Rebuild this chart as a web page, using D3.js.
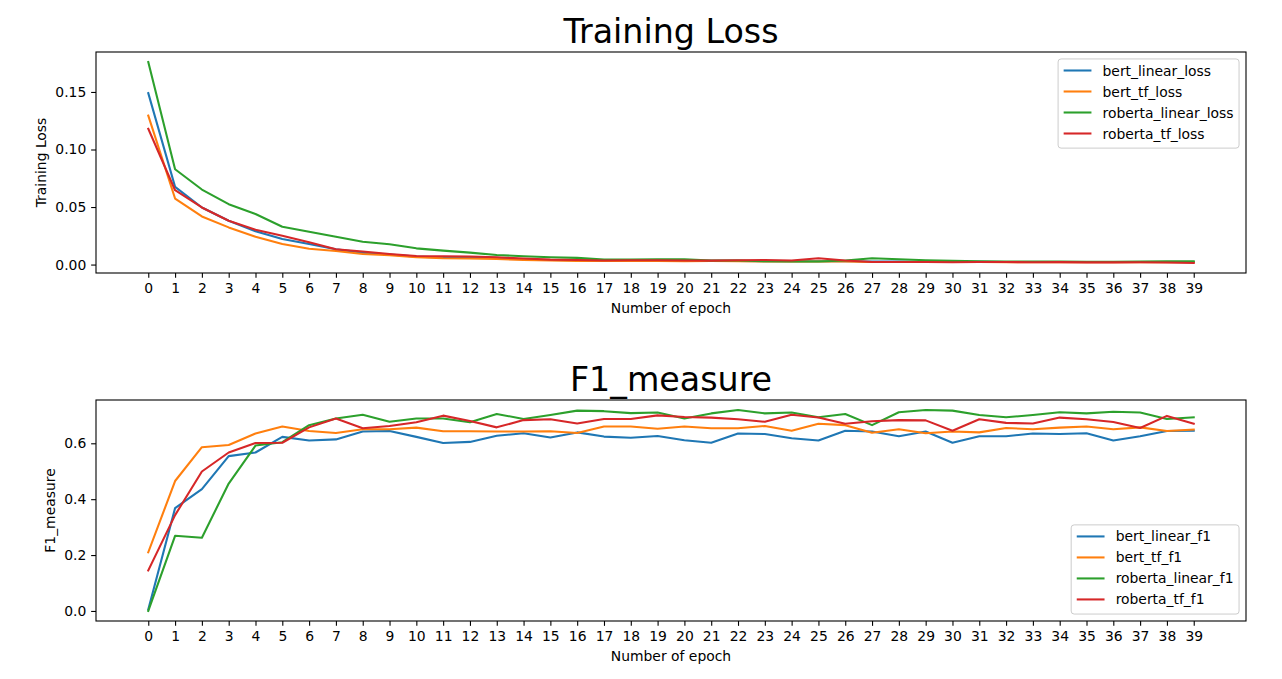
<!DOCTYPE html>
<html>
<head>
<meta charset="utf-8">
<script src="https://cdn.jsdelivr.net/npm/d3@7"></script>
<style>
  html, body { margin: 0; padding: 0; background: #fff; }
  svg { display: block; font-family: "DejaVu Sans", sans-serif; }
</style>
</head>
<body>
<svg id="chart" width="1282" height="679"></svg>
<script>
// ---------- data ----------
const epochs = d3.range(0, 40);

const bertLinearLoss = [0.149, 0.0675, 0.0496, 0.0381, 0.0289, 0.0222, 0.0179, 0.0133, 0.0104, 0.0087,
  0.0069, 0.0062, 0.0060, 0.0058, 0.0046, 0.0040, 0.0038, 0.0035, 0.0035, 0.0035,
  0.0032, 0.0033, 0.0032, 0.0029, 0.0029, 0.0029, 0.0029, 0.0026, 0.0026, 0.0023,
  0.0023, 0.0024, 0.0023, 0.0022, 0.0023, 0.0022, 0.0022, 0.0023, 0.0022, 0.0022];
const bertTfLoss = [0.1295, 0.0574, 0.0418, 0.0323, 0.0242, 0.0179, 0.0138, 0.0118, 0.0092, 0.0081,
  0.0063, 0.0055, 0.0053, 0.0049, 0.0040, 0.0035, 0.0032, 0.0032, 0.0032, 0.0032,
  0.0029, 0.0031, 0.0029, 0.0026, 0.0026, 0.0026, 0.0026, 0.0023, 0.0023, 0.0023,
  0.0022, 0.0022, 0.0021, 0.0021, 0.0021, 0.0020, 0.0020, 0.0020, 0.0020, 0.0020];
const robertaLinearLoss = [0.176, 0.0828, 0.0652, 0.0525, 0.0439, 0.0329, 0.0286, 0.0242, 0.0199, 0.0176,
  0.0141, 0.0121, 0.0104, 0.0083, 0.0072, 0.0063, 0.0058, 0.0043, 0.0043, 0.0046,
  0.0046, 0.0035, 0.0035, 0.0029, 0.0026, 0.0026, 0.0035, 0.0055, 0.0046, 0.0037,
  0.0032, 0.0028, 0.0026, 0.0026, 0.0026, 0.0025, 0.0025, 0.0026, 0.0028, 0.0029];
const robertaTfLoss = [0.118, 0.0646, 0.0496, 0.0381, 0.0303, 0.0251, 0.0193, 0.0133, 0.0113, 0.0092,
  0.0075, 0.0072, 0.0070, 0.0063, 0.0052, 0.0043, 0.0040, 0.0035, 0.0037, 0.0037,
  0.0035, 0.0034, 0.0037, 0.0040, 0.0035, 0.0055, 0.0035, 0.0023, 0.0023, 0.0022,
  0.0020, 0.0023, 0.0022, 0.0020, 0.0021, 0.0019, 0.0019, 0.0020, 0.0018, 0.0014];

const bertLinearF1 = [0.005, 0.368, 0.436, 0.554, 0.567, 0.623, 0.610, 0.614, 0.642, 0.644,
  0.623, 0.601, 0.605, 0.627, 0.636, 0.621, 0.639, 0.624, 0.620, 0.626,
  0.611, 0.602, 0.635, 0.633, 0.618, 0.610, 0.645, 0.642, 0.625, 0.642,
  0.602, 0.625, 0.625, 0.635, 0.633, 0.636, 0.610, 0.625, 0.644, 0.645];
const bertTfF1 = [0.210, 0.465, 0.586, 0.594, 0.635, 0.660, 0.644, 0.637, 0.650, 0.650,
  0.656, 0.643, 0.643, 0.642, 0.642, 0.643, 0.637, 0.660, 0.660, 0.652,
  0.660, 0.654, 0.654, 0.662, 0.645, 0.670, 0.665, 0.638, 0.650, 0.636,
  0.642, 0.639, 0.655, 0.650, 0.656, 0.660, 0.650, 0.657, 0.644, 0.649];
const robertaLinearF1 = [0.0, 0.269, 0.262, 0.456, 0.592, 0.604, 0.665, 0.689, 0.702, 0.677,
  0.689, 0.689, 0.675, 0.705, 0.687, 0.701, 0.717, 0.715, 0.708, 0.710,
  0.689, 0.707, 0.719, 0.707, 0.710, 0.693, 0.705, 0.665, 0.711, 0.719,
  0.717, 0.701, 0.693, 0.701, 0.711, 0.707, 0.713, 0.710, 0.687, 0.693];
const robertaTfF1 = [0.145, 0.343, 0.499, 0.567, 0.601, 0.602, 0.657, 0.689, 0.654, 0.662,
  0.675, 0.699, 0.680, 0.657, 0.683, 0.686, 0.671, 0.687, 0.687, 0.700,
  0.694, 0.692, 0.686, 0.677, 0.702, 0.692, 0.670, 0.679, 0.683, 0.682,
  0.645, 0.686, 0.673, 0.671, 0.692, 0.686, 0.676, 0.655, 0.698, 0.670];

const lossNames = ["bert_linear_loss", "bert_tf_loss", "roberta_linear_loss", "roberta_tf_loss"];
const f1Names = ["bert_linear_f1", "bert_tf_f1", "roberta_linear_f1", "roberta_tf_f1"];
const lossTicks = [0.00, 0.05, 0.10, 0.15];
const f1Ticks = [0.0, 0.2, 0.4, 0.6];
const colors = ["#1f77b4", "#ff7f0e", "#2ca02c", "#d62728"];

// ---------- drawing ----------
const svg = d3.select("#chart");
const FS = 13.9;

function panel(cfg) {
  const { top, bottom, left, right, series, names, ticks, fmt, title, ylabel, ylabelX, legendPos } = cfg;
  const g = svg.append("g");
  const x = d3.scaleLinear().domain([-1.95, 40.95]).range([left, right]);
  const all = series.flat();
  const mn = d3.min(all), mx = d3.max(all), m = (mx - mn) * 0.05;
  const y = d3.scaleLinear().domain([mn - m, mx + m]).range([bottom, top]);

  // lines
  const line = d3.line().x((d, i) => x(epochs[i])).y(d => y(d));
  series.forEach((s, i) => {
    g.append("path").datum(s).attr("d", line)
      .attr("fill", "none").attr("stroke", colors[i]).attr("stroke-width", 2.08)
      .attr("stroke-linejoin", "round").attr("stroke-linecap", "square");
  });

  // axes
  const xa = g.append("g").attr("transform", `translate(0,${bottom})`)
    .call(d3.axisBottom(x).tickValues(epochs).tickFormat(d3.format("d")).tickSize(4.86).tickPadding(4.86));
  const ya = g.append("g").attr("transform", `translate(${left},0)`)
    .call(d3.axisLeft(y).tickValues(ticks).tickFormat(d3.format(fmt)).tickSize(4.86).tickPadding(4.86));
  [xa, ya].forEach(a => {
    a.select(".domain").remove();
    a.selectAll("line").attr("stroke", "#000").attr("stroke-width", 1.1);
    a.selectAll("text").attr("font-size", FS).attr("fill", "#000").attr("font-family", "DejaVu Sans");
  });

  // frame
  g.append("rect").attr("x", left).attr("y", top).attr("width", right - left).attr("height", bottom - top)
    .attr("fill", "none").attr("stroke", "#000").attr("stroke-width", 1.1);

  // title
  g.append("text").attr("x", (left + right) / 2).attr("y", top - 8.6).attr("text-anchor", "middle")
    .attr("font-size", 33.3).text(title);
  // x label
  g.append("text").attr("x", (left + right) / 2).attr("y", bottom + 40).attr("text-anchor", "middle")
    .attr("font-size", FS).text("Number of epoch");
  // y label
  g.append("text").attr("transform", `translate(${ylabelX},${(top + bottom) / 2}) rotate(-90)`)
    .attr("text-anchor", "middle").attr("font-size", FS).text(ylabel);

  // legend
  const lg = g.append("g");
  const box = lg.append("rect").attr("rx", 3).attr("ry", 3)
    .attr("fill", "#fff").attr("fill-opacity", 0.8).attr("stroke", "#cccccc").attr("stroke-width", 1);
  const pad = 5.56, rowH = 21, hl = 27.8, hp = 11.1;
  const texts = names.map((n, i) => lg.append("text").attr("font-size", FS).text(n));
  const maxW = d3.max(texts, t => t.node().getComputedTextLength());
  const bw = pad * 2 + hl + hp + maxW;
  const bh = pad * 2 + rowH * 4 - 6.94 + 1;
  const bx = right - 6.94 - bw;
  const by = legendPos === "upper" ? top + 6.94 : bottom - 6.94 - bh;
  box.attr("x", bx).attr("y", by).attr("width", bw).attr("height", bh);
  names.forEach((n, i) => {
    const cy = by + pad + 6 + i * rowH;
    lg.append("line").attr("x1", bx + pad).attr("x2", bx + pad + hl).attr("y1", cy).attr("y2", cy)
      .attr("stroke", colors[i]).attr("stroke-width", 2.08);
    texts[i].attr("x", bx + pad + hl + hp).attr("y", cy + 5);
  });
}

panel({ top: 52, bottom: 273, left: 96, right: 1246,
  series: [bertLinearLoss, bertTfLoss, robertaLinearLoss, robertaTfLoss], names: lossNames,
  ticks: lossTicks, fmt: ".2f", title: "Training Loss", ylabel: "Training Loss", ylabelX: 46, legendPos: "upper" });

panel({ top: 400, bottom: 621, left: 96, right: 1246,
  series: [bertLinearF1, bertTfF1, robertaLinearF1, robertaTfF1], names: f1Names,
  ticks: f1Ticks, fmt: ".1f", title: "F1_measure", ylabel: "F1_measure", ylabelX: 55, legendPos: "lower" });
</script>
</body>
</html>
